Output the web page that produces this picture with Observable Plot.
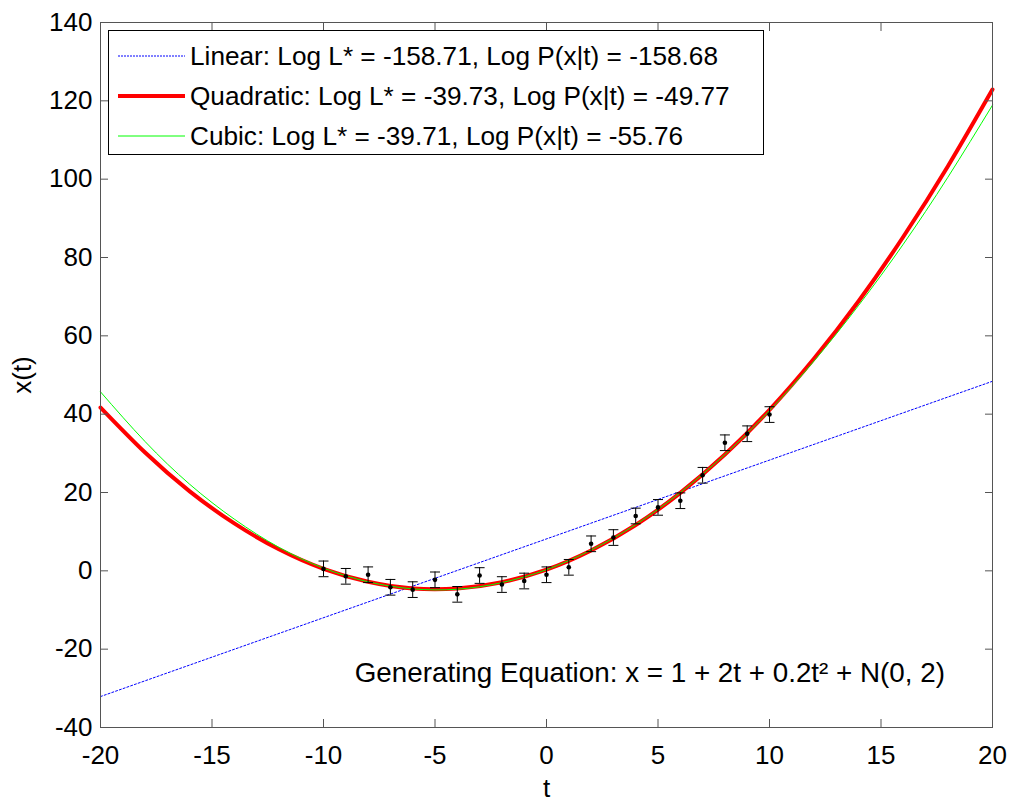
<!DOCTYPE html>
<html><head><meta charset="utf-8">
<script src="https://cdn.jsdelivr.net/npm/d3@7"></script>
<script src="https://cdn.jsdelivr.net/npm/@observablehq/plot@0.6"></script>
<style>
html,body{margin:0;padding:0;background:#fff;}
#chart{position:relative;width:1011px;height:802px;}
</style></head><body><div id="chart"></div>
<script>
// Observations (t, x) with error bars
const tObs = [-10,-9,-8,-7,-6,-5,-4,-3,-2,-1,0,1,2,3,4,5,6,7,8,9,10];
const xObs = [0.5,-1.4,-1.0,-4.2,-4.8,-2.3,-6.0,-1.2,-3.5,-2.6,-1.0,0.9,6.9,8.5,14.0,16.2,17.9,24.4,32.7,35.0,39.9];
const errObs = [2,2,2,2,2,2,2,2,2,2,2,2,2,2,2,2,2,2,2,2,2];

// Fitted curves
const tCurve = [-20,-18,-16,-14,-12,-10,-8,-6,-4,-2,0,2,4,6,8,10,12,14,16,18,20];
const xQuadratic = [41.7,30.2,20.3,12.1,5.5,0.5,-2.8,-4.5,-4.5,-2.9,0.3,5.2,11.7,19.9,29.7,41.1,54.2,68.9,85.3,103.3,122.9];
const xCubic = [45.7,33.0,22.1,13.2,6.0,0.7,-2.8,-4.6,-4.7,-3.0,0.3,5.3,11.8,20.0,29.7,40.9,53.6,67.8,83.4,100.5,118.9];
const tLinear = [-20, 20];
const xLinear = [-32.1, 48.4];

// Ticks and labels
const xTicks = [-20,-15,-10,-5,0,5,10,15,20];
const yTicks = [-40,-20,0,20,40,60,80,100,120,140];
const legendLabels = [
  "Linear: Log L* = -158.71, Log P(x|t) = -158.68",
  "Quadratic: Log L* = -39.73, Log P(x|t) = -49.77",
  "Cubic: Log L* = -39.71, Log P(x|t) = -55.76"
];
const legendColors = ["#0000ff", "#ff0000", "#00ff00"];
const equationLabel = "Generating Equation: x = 1 + 2t + 0.2t\u00B2 + N(0, 2)";

const obs = tObs.map((t, i) => ({t, x: xObs[i], e: errObs[i]}));
const quad = tCurve.map((t, i) => ({t, x: xQuadratic[i]}));
const cubic = tCurve.map((t, i) => ({t, x: xCubic[i]}));
const linear = tLinear.map((t, i) => ({t, x: xLinear[i]}));

const fontFamily = "'Liberation Sans', Arial, Helvetica, sans-serif";
const capSymbol = {draw(ctx) { ctx.moveTo(-5, 0); ctx.lineTo(5, 0); }};
const axisColor = "#555";

const plot = Plot.plot({
  width: 1011, height: 802,
  marginLeft: 100, marginRight: 19, marginTop: 22, marginBottom: 75,
  style: {fontFamily, fontSize: "26px", color: "#000", background: "#fff", overflow: "visible"},
  x: {domain: [-20, 20], label: "t"},
  y: {domain: [-40, 140], label: "x(t)"},
  marks: [
    Plot.line(linear, {x: "t", y: "x", stroke: legendColors[0], strokeWidth: 1, strokeDasharray: "2,2"}),
    Plot.line(quad, {x: "t", y: "x", stroke: legendColors[1], strokeWidth: 4, curve: "natural"}),
    Plot.line(cubic, {x: "t", y: "x", stroke: legendColors[2], strokeWidth: 1, curve: "natural"}),
    Plot.ruleX(obs, {x: "t", y1: d => d.x - d.e, y2: d => d.x + d.e, stroke: "#000", strokeWidth: 1}),
    Plot.dot(obs, {x: "t", y: d => d.x - d.e, symbol: capSymbol, stroke: "#000", fill: "none", strokeWidth: 1}),
    Plot.dot(obs, {x: "t", y: d => d.x + d.e, symbol: capSymbol, stroke: "#000", fill: "none", strokeWidth: 1}),
    Plot.dot(obs, {x: "t", y: "x", r: 2.3, fill: "#000", stroke: "none"}),
    Plot.text([equationLabel], {x: -8.6, y: -26, text: d => d, textAnchor: "start", fontSize: 27.8, fill: "#000"}),
    Plot.frame({stroke: axisColor}),
    Plot.axisX({ticks: xTicks, tickSize: -8, tickPadding: 26, tickFormat: d => String(d), label: "t", labelAnchor: "center", labelArrow: "none", labelOffset: 69, stroke: axisColor}),
    Plot.axisX({anchor: "top", ticks: xTicks, tickSize: -8, tickFormat: () => "", label: null, stroke: axisColor}),
    Plot.axisY({ticks: yTicks, tickSize: -8, tickPadding: 16, tickFormat: d => String(d), label: "x(t)", labelAnchor: "center", labelArrow: "none", labelOffset: 88, stroke: axisColor}),
    Plot.axisY({anchor: "right", ticks: yTicks, tickSize: -8, tickFormat: () => "", label: null, stroke: axisColor})
  ]
});
document.getElementById("chart").appendChild(plot);

// Legend box inside the plot area
const svg = d3.select(plot);
const lg = svg.append("g").attr("font-family", fontFamily).attr("font-size", 26.2).attr("text-anchor", "start");
lg.append("rect").attr("x", 108.5).attr("y", 30.5).attr("width", 655).attr("height", 124)
  .attr("fill", "#fff").attr("stroke", "#000").attr("stroke-width", 1);
const rowY = [56, 96, 136];
const widths = [1, 4, 1];
const dashes = ["2,1", null, null];
legendLabels.forEach((lab, i) => {
  lg.append("line").attr("x1", 118).attr("x2", 185).attr("y1", rowY[i]).attr("y2", rowY[i])
    .attr("stroke", legendColors[i]).attr("stroke-width", widths[i]).attr("stroke-dasharray", dashes[i]);
  lg.append("text").attr("x", 190).attr("y", rowY[i]).attr("dy", "0.35em").attr("fill", "#000")
    .attr("text-anchor", "start").text(lab);
});
</script>
</body></html>
